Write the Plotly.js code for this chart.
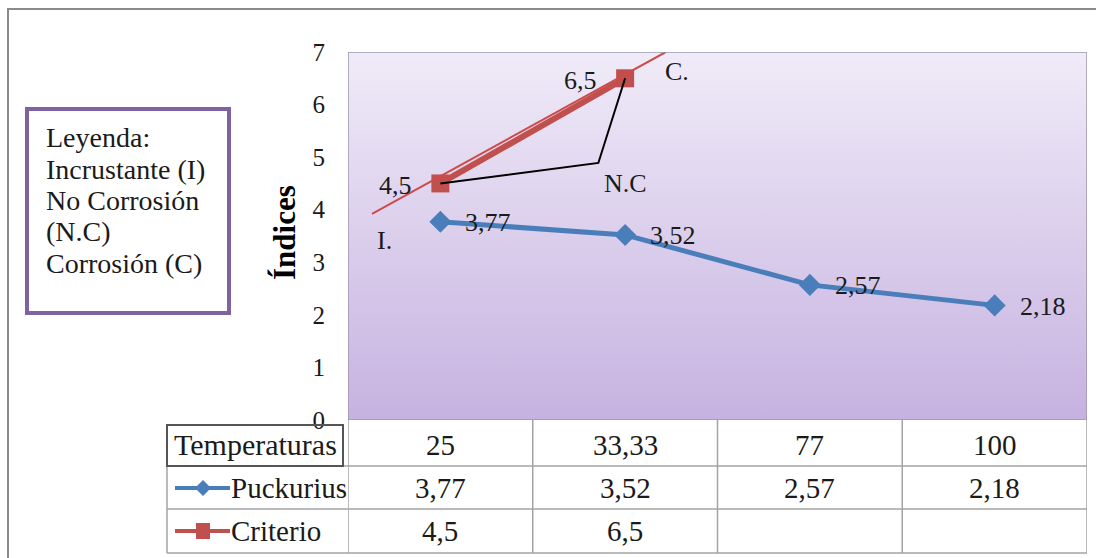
<!DOCTYPE html>
<html>
<head>
<meta charset="utf-8">
<script src="https://cdn.plot.ly/plotly-3.0.1.min.js"></script>
<style>
html,body{margin:0;padding:0;background:#ffffff;}
#chart{width:1096px;height:558px;}
</style>
</head>
<body>
<div id="chart"></div>
<script>
// ---- data ----
const categories = ['25', '33,33', '77', '100'];
const puckurius = [3.77, 3.52, 2.57, 2.18];
const criterio = [4.5, 6.5, null, null];
const seriesNames = ['Puckurius', 'Criterio'];
const rowHeader = 'Temperaturas';
const yTicks = [0, 1, 2, 3, 4, 5, 6, 7];
const yTitle = 'Índices';
const legendLines = ['Leyenda:', 'Incrustante (I)', 'No Corrosión', '(N.C)', 'Corrosión (C)'];
// hand-drawn guide lines (x in category index units, y in index units)
const trendX = [-0.37, 1.22];
const trendY = [3.92, 7.0];
const ncX = [0, 0.855, 1];
const ncY = [4.5, 4.89, 6.5];
const zoneLabels = ['I.', 'N.C', 'C.'];
const zoneX = [-0.305, 1.0, 1.283];
const zoneY = [3.42, 4.5, 6.62];

// ---- helpers ----
const W = 1096, H = 558;
const M = {l: 348, r: 9, t: 52, b: 138};
const plotW = W - M.l - M.r, plotH = H - M.t - M.b;
const px = v => (v - M.l) / plotW;          // pixel x -> paper x
const py = v => (H - M.b - v) / plotH;      // pixel y -> paper y
const fmt = v => (v === null || v === undefined) ? '' : String(v).replace('.', ',');
const idx = categories.map((_, i) => i);

const BLUE = '#4a7ebb', RED = '#c0504d';
const FONT = 'Liberation Serif';
const TXT = '#1a1a1a';

const traces = [
  { // gradient plot background
    x: [-0.5, 3.5, 3.5, -0.5, -0.5], y: [0, 0, 7, 7, 0],
    mode: 'lines', line: {width: 0}, fill: 'toself',
    fillgradient: {type: 'vertical', colorscale: [[0, 'rgb(198,178,224)'], [1, 'rgb(240,235,248)']]},
    hoverinfo: 'skip', showlegend: false
  },
  {
    x: idx, y: criterio, name: seriesNames[1], mode: 'lines+markers',
    line: {color: RED, width: 6}, marker: {symbol: 'square', size: 18, color: RED},
    showlegend: false
  },
  {
    x: trendX, y: trendY, mode: 'lines', line: {color: '#cf4a4a', width: 2},
    hoverinfo: 'skip', showlegend: false
  },
  {
    x: ncX, y: ncY, mode: 'lines', line: {color: '#000000', width: 2},
    hoverinfo: 'skip', showlegend: false
  },
  {
    x: idx, y: puckurius, name: seriesNames[0], mode: 'lines+markers',
    line: {color: BLUE, width: 5}, marker: {symbol: 'diamond', size: 17, color: BLUE},
    showlegend: false
  }
];

const annotations = [];
const ann = o => annotations.push(Object.assign({showarrow: false, xanchor: 'center', yanchor: 'middle'}, o));
// data labels
puckurius.forEach((v, i) => ann({
  x: i, y: v, xref: 'x', yref: 'y', text: fmt(v),
  xanchor: 'left', xshift: 23, yshift: -1, font: {family: FONT, size: 26, color: TXT}
}));
criterio.forEach((v, i) => { if (v !== null) ann({
  x: i, y: v, xref: 'x', yref: 'y', text: fmt(v),
  xanchor: 'right', xshift: -26, yshift: -2, font: {family: FONT, size: 26, color: TXT}
}); });
// zone labels
zoneLabels.forEach((t, i) => ann({
  x: zoneX[i], y: zoneY[i], xref: 'x', yref: 'y', text: t,
  font: {family: FONT, size: 26, color: TXT}
}));
// y title
ann({
  x: px(284), y: py(233), xref: 'paper', yref: 'paper', text: '<b>' + yTitle + '</b>',
  textangle: -90, font: {family: FONT, size: 31, color: '#000'}
});
// legend box text
const legendYs = [137, 169, 200, 231, 263];
legendLines.forEach((t, i) => ann({
  x: px(44), y: py(legendYs[i]), xref: 'paper', yref: 'paper', text: t,
  xanchor: 'left', font: {family: FONT, size: 28, color: TXT}
}));
// data table
const rowY = [445, 488, 531];
ann({
  x: px(255), y: py(rowY[0]), xref: 'paper', yref: 'paper', text: rowHeader,
  font: {family: FONT, size: 30, color: TXT}
});
seriesNames.forEach((n, r) => ann({
  x: px(229), y: py(rowY[r + 1]), xref: 'paper', yref: 'paper', text: n,
  xanchor: 'left', font: {family: FONT, size: 29, color: TXT}
}));
const tableRows = [categories, puckurius.map(fmt), criterio.map(fmt)];
tableRows.forEach((row, r) => row.forEach((t, i) => ann({
  x: i, y: py(rowY[r]), xref: 'x', yref: 'paper', text: t,
  font: {family: FONT, size: 29, color: TXT}
})));

const GRID = '#a3a3a3';
const shapes = [];
// outer frame
shapes.push({type: 'rect', xref: 'paper', yref: 'paper', x0: px(8), x1: px(1110), y0: py(9), y1: py(575),
  line: {color: '#8a8a8a', width: 2}, layer: 'below'});
// plot border
shapes.push({type: 'rect', xref: 'x', yref: 'y', x0: -0.5, x1: 3.5, y0: 0, y1: 7,
  line: {color: '#9d98ad', width: 1.5}});
// legend box
shapes.push({type: 'rect', xref: 'paper', yref: 'paper', x0: px(27), x1: px(229), y0: py(109), y1: py(313),
  line: {color: '#7f63a1', width: 4}, fillcolor: '#ffffff', layer: 'below'});
// table horizontal lines
[466, 509, 553].forEach(yv => shapes.push({type: 'line', xref: 'paper', yref: 'paper',
  x0: px(167), x1: 1, y0: py(yv), y1: py(yv), line: {color: GRID, width: 1.5}}));
// table vertical lines (data columns)
idx.concat([idx.length]).forEach(i => shapes.push({type: 'line', xref: 'x', yref: 'paper',
  x0: i - 0.5, x1: i - 0.5, y0: 0, y1: py(553), line: {color: GRID, width: 1.5}}));
// left edge of table
shapes.push({type: 'line', xref: 'paper', yref: 'paper', x0: px(167), x1: px(167), y0: py(466), y1: py(553),
  line: {color: GRID, width: 1.5}});
// header cell box
shapes.push({type: 'rect', xref: 'paper', yref: 'paper', x0: px(167), x1: px(343), y0: py(425), y1: py(466),
  line: {color: '#555555', width: 2}});
// table legend keys
shapes.push({type: 'line', xref: 'paper', yref: 'paper', x0: px(175), x1: px(230), y0: py(488), y1: py(488),
  line: {color: BLUE, width: 4}});
const dcx = 203, dcy = 488, dr = 8;
shapes.push({type: 'path', xref: 'paper', yref: 'paper',
  path: `M ${px(dcx - dr)} ${py(dcy)} L ${px(dcx)} ${py(dcy - dr)} L ${px(dcx + dr)} ${py(dcy)} L ${px(dcx)} ${py(dcy + dr)} Z`,
  fillcolor: BLUE, line: {color: BLUE, width: 0}});
shapes.push({type: 'line', xref: 'paper', yref: 'paper', x0: px(175), x1: px(230), y0: py(531), y1: py(531),
  line: {color: RED, width: 4}});
shapes.push({type: 'rect', xref: 'paper', yref: 'paper', x0: px(196), x1: px(210), y0: py(523), y1: py(539),
  fillcolor: RED, line: {color: RED, width: 0}});

const layout = {
  width: W, height: H,
  margin: M,
  paper_bgcolor: '#ffffff', plot_bgcolor: 'rgba(0,0,0,0)',
  font: {family: FONT, color: TXT},
  showlegend: false,
  xaxis: {range: [-0.5, 3.5], showticklabels: false, showgrid: false, zeroline: false,
    showline: false, ticks: '', fixedrange: true},
  yaxis: {range: [0, 7], tickvals: yTicks, ticktext: yTicks.map(String), showgrid: false,
    zeroline: false, showline: false, ticks: '', ticklabelstandoff: 22,
    tickfont: {family: FONT, size: 25, color: TXT}, fixedrange: true},
  shapes: shapes,
  annotations: annotations
};

Plotly.newPlot('chart', traces, layout, {displayModeBar: false, staticPlot: true});
</script>
</body>
</html>
